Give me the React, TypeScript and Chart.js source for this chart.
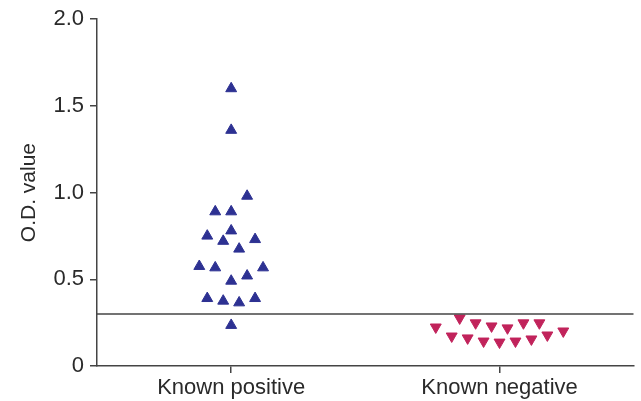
import React, { useEffect, useRef } from "react";
import { Chart, registerables } from "chart.js";

Chart.register(...registerables);

const categories = ["Known positive", "Known negative"];
const yTickValues = [0, 0.5, 1.0, 1.5, 2.0];
const yTitle = "O.D. value";

// horizontal jitter slots and O.D. values
const positiveSlots = [2, -2, 0, 0, -3, -1, 3, 1, -4, -2, 4, 2, 0, -3, -1, 1, 3, 0, 0, 0];
const positiveValues = [0.98, 0.89, 0.89, 0.78, 0.75, 0.72, 0.73, 0.675, 0.575, 0.567, 0.567, 0.52, 0.49, 0.39, 0.375, 0.365, 0.39, 0.235, 1.6, 1.36];
const negativeSlots = [-8, -5, -6, -3, -4, -1, -2, 1, 0, 3, 2, 5, 4, 6, 8];
const negativeValues = [0.224, 0.276, 0.172, 0.248, 0.161, 0.23, 0.143, 0.219, 0.137, 0.248, 0.143, 0.248, 0.155, 0.178, 0.201];
const cutoff = 0.3;
const slotWidth = 0.0297;

const FONT = "'Liberation Sans', Arial, sans-serif";
const TEXT = "#2a2a2a";
const AXIS = "#444444";

export default function App() {
  const ref = useRef<HTMLCanvasElement>(null);
  useEffect(() => {
    const canvas = ref.current;
    if (!canvas) return;
    const pos = positiveValues.map((v, i) => ({ x: 0 + positiveSlots[i] * slotWidth, y: v }));
    const neg = negativeValues.map((v, i) => ({ x: 1 + negativeSlots[i] * slotWidth, y: v }));
    const chart = new Chart(canvas, {
      type: "scatter",
      data: {
        datasets: [
          {
            label: "cutoff",
            type: "line",
            data: [
              { x: -0.5, y: cutoff },
              { x: 1.5, y: cutoff },
            ],
            borderColor: AXIS,
            borderWidth: 1.5,
            pointRadius: 0,
            showLine: true,
          } as any,
          {
            label: categories[0],
            data: pos,
            pointStyle: "triangle",
            pointRadius: 6.3,
            pointBorderWidth: 1,
            backgroundColor: "#2d3192",
            borderColor: "#2d3192",
          },
          {
            label: categories[1],
            data: neg,
            pointStyle: "triangle",
            pointRotation: 180,
            pointRadius: 6.3,
            pointBorderWidth: 1,
            backgroundColor: "#c1235b",
            borderColor: "#c1235b",
          },
        ],
      },
      options: {
        responsive: false,
        animation: false,
        layout: { padding: { top: 13, right: 5, left: 0, bottom: 0 } },
        plugins: { legend: { display: false }, tooltip: { enabled: false } },
        scales: {
          x: {
            type: "linear",
            min: -0.5,
            max: 1.5,
            afterBuildTicks: (s: any) => {
              s.ticks = categories.map((_, i) => ({ value: i }));
            },
            afterFit: (s: any) => {
              s.height = 35;
            },
            ticks: {
              callback: (v: any) => categories[Math.round(Number(v))] ?? "",
              font: { family: FONT, size: 22 },
              color: TEXT,
              padding: 2,
              maxRotation: 0,
            },
            grid: { drawOnChartArea: false, tickLength: 7, color: AXIS, lineWidth: 1.5 },
            border: { display: true, color: AXIS, width: 1.5 },
          },
          y: {
            min: 0,
            max: 2,
            afterBuildTicks: (s: any) => {
              s.ticks = yTickValues.map((v) => ({ value: v }));
            },
            afterFit: (s: any) => {
              s.width = 97;
            },
            ticks: {
              callback: (v: any) => (Number(v) === 0 ? "0" : Number(v).toFixed(1)),
              font: { family: FONT, size: 22 },
              color: TEXT,
              padding: 6,
            },
            title: {
              display: true,
              text: yTitle,
              font: { family: FONT, size: 21 },
              color: TEXT,
              padding: { top: 17, bottom: 0 },
            },
            grid: { drawOnChartArea: false, tickLength: 7, color: AXIS, lineWidth: 1.5 },
            border: { display: true, color: AXIS, width: 1.5 },
          },
        },
      },
    });
    return () => chart.destroy();
  }, []);
  return (
    <div style={{ position: "absolute", left: 0, top: 0, width: 641, height: 401, background: "#fff" }}>
      <canvas ref={ref} width={641} height={401} style={{ width: 641, height: 401 }} />
    </div>
  );
}
